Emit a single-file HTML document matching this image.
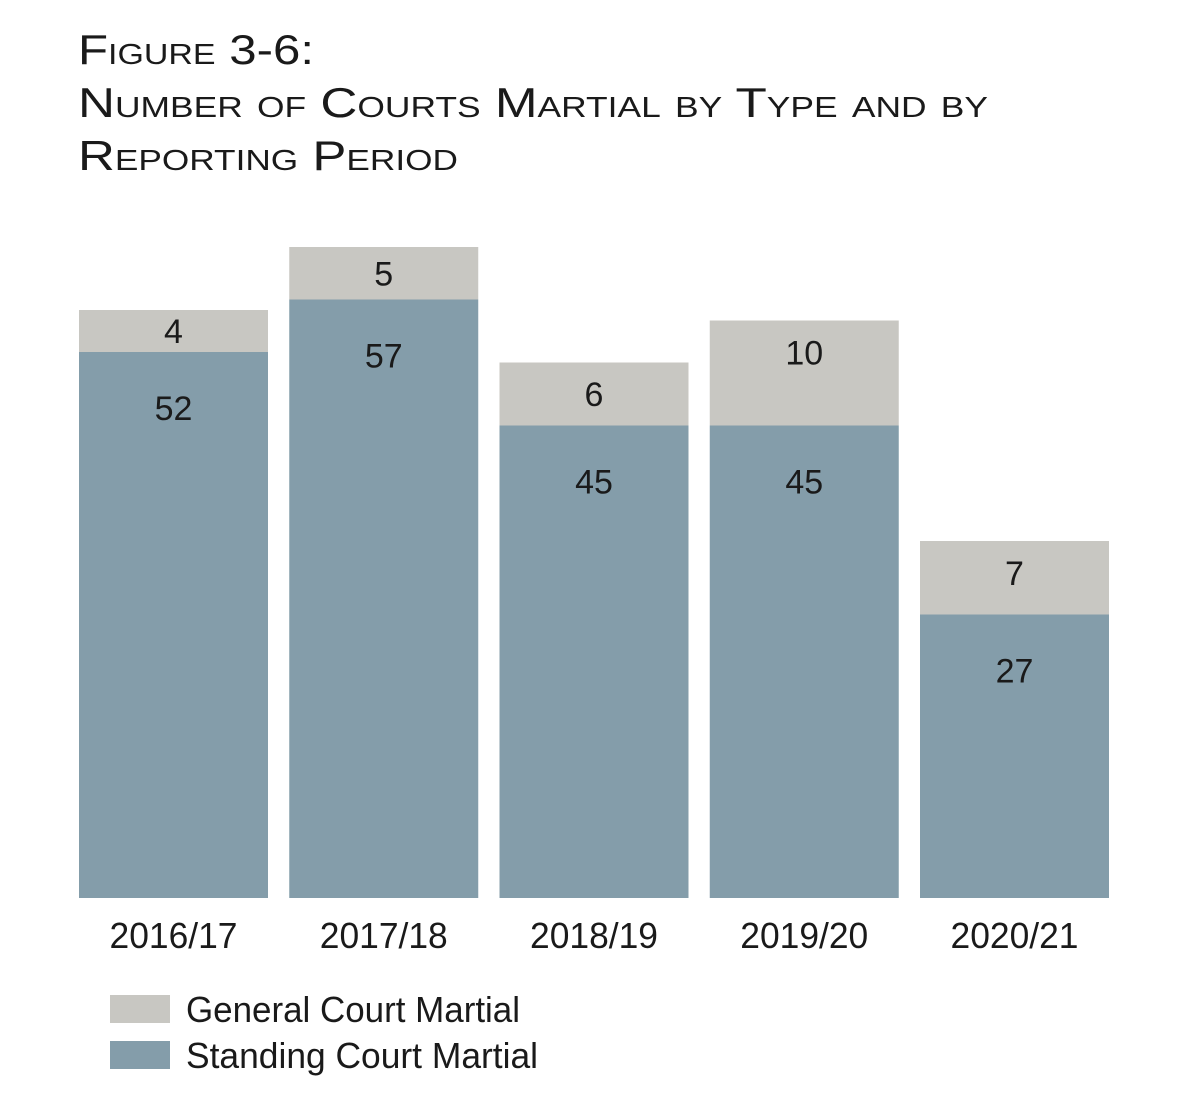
<!DOCTYPE html>
<html><head><meta charset="utf-8"><style>
body{margin:0;background:#fff;width:1200px;height:1100px;overflow:hidden;font-family:"Liberation Sans",sans-serif;}
svg text{font-family:"Liberation Sans",sans-serif;fill:#1a1a1a;}
</style></head><body>
<svg id="chart" width="1200" height="1100">
<g font-variant="small-caps" font-size="42">
<text x="78" y="64" style="font-variant:small-caps" textLength="236" lengthAdjust="spacingAndGlyphs">Figure 3-6:</text>
<text x="78" y="117" style="font-variant:small-caps" textLength="910" lengthAdjust="spacingAndGlyphs">Number of Courts Martial by Type and by</text>
<text x="78" y="170" style="font-variant:small-caps" textLength="380" lengthAdjust="spacingAndGlyphs">Reporting Period</text>
</g>
<g id="bars"></g>
<g>
<rect x="110" y="995" width="60" height="28" fill="#c8c7c2"/>
<text x="186" y="1022" font-size="36" textLength="334" lengthAdjust="spacingAndGlyphs">General Court Martial</text>
<rect x="110" y="1041" width="60" height="28" fill="#849daa"/>
<text x="186" y="1068" font-size="36" textLength="352" lengthAdjust="spacingAndGlyphs">Standing Court Martial</text>
</g>
</svg>
<script>
const categories=["2016/17","2017/18","2018/19","2019/20","2020/21"];
const standing=[52,57,45,45,27];
const general=[4,5,6,10,7];
const NS="http://www.w3.org/2000/svg";
const base=898, unit=10.5, x0=79, step=210.25, bw=189;
function xPos(i){return x0+i*step;}
function yPos(v){return base-v*unit;}
const g=document.getElementById("bars");
function mk(tag,attrs){const e=document.createElementNS(NS,tag);for(const k in attrs)e.setAttribute(k,attrs[k]);g.appendChild(e);return e;}
categories.forEach((c,i)=>{
  const x=xPos(i), s=standing[i], t=s+general[i];
  const r1=mk("rect",{x:x,y:yPos(s),width:bw,height:base-yPos(s),fill:"#849daa"});
  
  
  const r2=mk("rect",{x:x,y:yPos(t),width:bw,height:yPos(s)-yPos(t),fill:"#c8c7c2"});
  
  
  const gh=yPos(s)-yPos(t);
  const l2=mk("text",{x:x+bw/2,y:yPos(t)+Math.min(gh/2,32)+12,"text-anchor":"middle","font-size":"34"});
  l2.textContent=general[i];
  
  
  const l1=mk("text",{x:x+bw/2,y:yPos(s)+68,"text-anchor":"middle","font-size":"34"});
  l1.textContent=s;
  
  
  const xl=mk("text",{x:x+bw/2,y:948,"text-anchor":"middle","font-size":"36",textLength:"128",lengthAdjust:"spacingAndGlyphs"});
  xl.textContent=c;
  
  
});
</script>
</body></html>
